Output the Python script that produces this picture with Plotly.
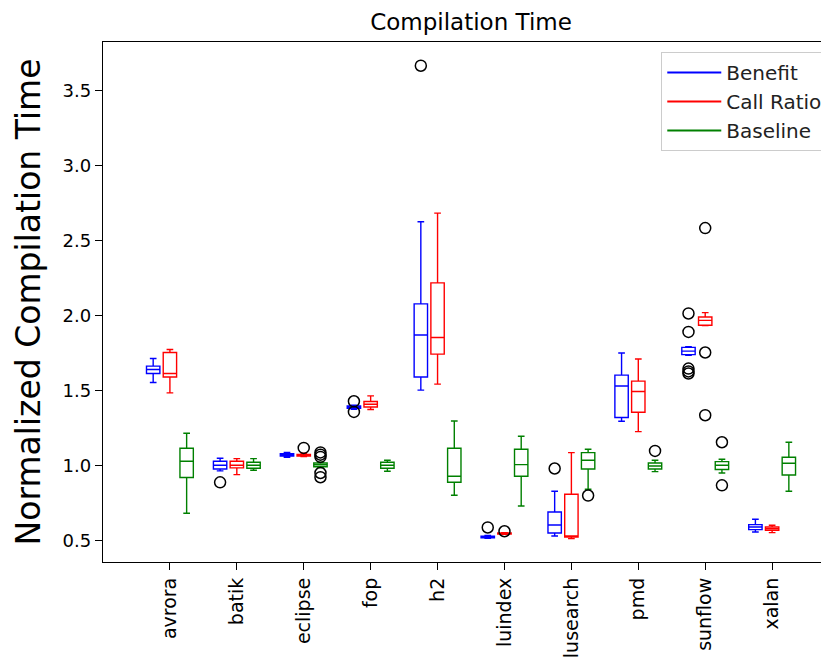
import plotly.graph_objects as go

benchmarks = ["avrora", "batik", "eclipse", "fop", "h2", "luindex", "lusearch", "pmd", "sunflow", "xalan"]
series_names = ["Benefit", "Call Ratio", "Baseline"]
series_colors = ["blue", "red", "green"]

# Benefit
benefit_lo = [1.556, 0.967, 1.058, 1.378, 1.505, 0.518, 0.533, 1.298, 1.738, 0.560]
benefit_q1 = [1.616, 0.980, 1.066, 1.385, 1.593, 0.522, 0.553, 1.323, 1.742, 0.576]
benefit_med = [1.643, 1.005, 1.075, 1.393, 1.873, 0.527, 0.607, 1.533, 1.765, 0.593]
benefit_q3 = [1.665, 1.031, 1.082, 1.400, 2.080, 0.532, 0.693, 1.605, 1.790, 0.609]
benefit_hi = [1.716, 1.051, 1.090, 1.405, 2.627, 0.537, 0.831, 1.753, 1.795, 0.645]
benefit_out = [[], [0.891], [], [1.431, 1.360], [3.667], [0.590], [0.983], [], [2.016, 1.893, 1.649, 1.630, 1.616], []]

# Call Ratio
callratio_lo = [1.487, 0.942, 1.063, 1.376, 1.545, 0.545, 0.516, 1.229, 1.935, 0.556]
callratio_q1 = [1.593, 0.987, 1.066, 1.393, 1.745, 0.547, 0.527, 1.358, 1.938, 0.571]
callratio_med = [1.616, 1.005, 1.071, 1.411, 1.856, 0.550, 0.531, 1.496, 1.970, 0.582]
callratio_q3 = [1.756, 1.031, 1.076, 1.429, 2.220, 0.553, 0.811, 1.565, 1.993, 0.593]
callratio_hi = [1.776, 1.049, 1.085, 1.467, 2.685, 0.556, 1.089, 1.713, 2.022, 0.605]
callratio_out = [[], [], [1.120], [], [], [0.565], [], [], [2.585, 1.756, 1.338], []]

# Baseline
baseline_lo = [0.685, 0.971, 0.990, 0.965, 0.805, 0.733, 0.845, 0.962, 0.953, 0.831]
baseline_q1 = [0.923, 0.985, 0.995, 0.985, 0.891, 0.931, 0.980, 0.980, 0.976, 0.940]
baseline_med = [1.031, 1.005, 1.008, 1.005, 0.931, 1.009, 1.038, 1.000, 1.005, 1.018]
baseline_q3 = [1.118, 1.025, 1.020, 1.025, 1.118, 1.111, 1.089, 1.020, 1.029, 1.058]
baseline_hi = [1.218, 1.049, 1.025, 1.038, 1.300, 1.198, 1.111, 1.038, 1.045, 1.158]
baseline_out = [[], [], [1.090, 1.075, 1.060, 0.953, 0.925], [], [], [], [0.803], [1.100], [1.158, 0.871], []]

y_ticks = [0.5, 1.0, 1.5, 2.0, 2.5, 3.0, 3.5]

stats = [
    (benefit_lo, benefit_q1, benefit_med, benefit_q3, benefit_hi, benefit_out),
    (callratio_lo, callratio_q1, callratio_med, callratio_q3, callratio_hi, callratio_out),
    (baseline_lo, baseline_q1, baseline_med, baseline_q3, baseline_hi, baseline_out),
]
offsets = [-0.25, 0.0, 0.25]
positions = list(range(1, len(benchmarks) + 1))

fig = go.Figure()
for (lo, q1, med, q3, hi, outs), off, color in zip(stats, offsets, series_colors):
    xs = [p + off for p in positions]
    fig.add_trace(go.Box(
        x=xs, q1=q1, median=med, q3=q3, lowerfence=lo, upperfence=hi,
        boxpoints=False, width=0.2, whiskerwidth=0.5,
        line=dict(color=color, width=1.4), fillcolor="rgba(0,0,0,0)",
        showlegend=False, hoverinfo="skip",
    ))
    ox, oy = [], []
    for p, vals in zip(xs, outs):
        for v in vals:
            ox.append(p)
            oy.append(v)
    fig.add_trace(go.Scatter(
        x=ox, y=oy, mode="markers", showlegend=False,
        marker=dict(symbol="circle-open", size=11, color="black", line=dict(width=1.5, color="black")),
    ))

for name, color in zip(series_names, series_colors):
    fig.add_trace(go.Scatter(x=[None], y=[None], mode="lines", name=name,
                             line=dict(color=color, width=2)))

font_family = "DejaVu Sans"
W, H = 821, 660
fig.update_layout(
    width=W, height=H,
    margin=dict(l=95, r=0, t=34, b=106),
    plot_bgcolor="white", paper_bgcolor="white",
    font=dict(family=font_family, color="black", size=19),
    title=dict(text="Compilation Time", x=0.564, xanchor="center", y=1 - 14 / H, yanchor="middle",
               font=dict(size=23, family=font_family)),
    legend=dict(x=0.999, y=0.981, xanchor="right", yanchor="top",
                bordercolor="#cccccc", borderwidth=1, bgcolor="white",
                font=dict(size=20, family=font_family, color="#222222"),
                itemwidth=54),
    showlegend=True,
)
fig.update_xaxes(
    range=[0, 10.85], tickmode="array", tickvals=positions, ticktext=benchmarks,
    tickangle=-90, ticks="outside", ticklen=7, tickcolor="black",
    showline=True, linecolor="black", linewidth=1.3, mirror=True,
    showgrid=False, zeroline=False, tickfont=dict(size=19),
)
fig.update_yaxes(
    range=[0.36, 3.825], tickmode="array", tickvals=y_ticks,
    ticktext=[f"{v:.1f}" for v in y_ticks],
    ticks="outside", ticklen=7, tickcolor="black",
    showline=True, linecolor="black", linewidth=1.3,
    showgrid=False, zeroline=False, tickfont=dict(size=18),
    ticklabelstandoff=0,
    title=dict(text="Normalized Compilation Time", font=dict(size=33, family=font_family), standoff=12),
)

fig.write_html("out.html")
